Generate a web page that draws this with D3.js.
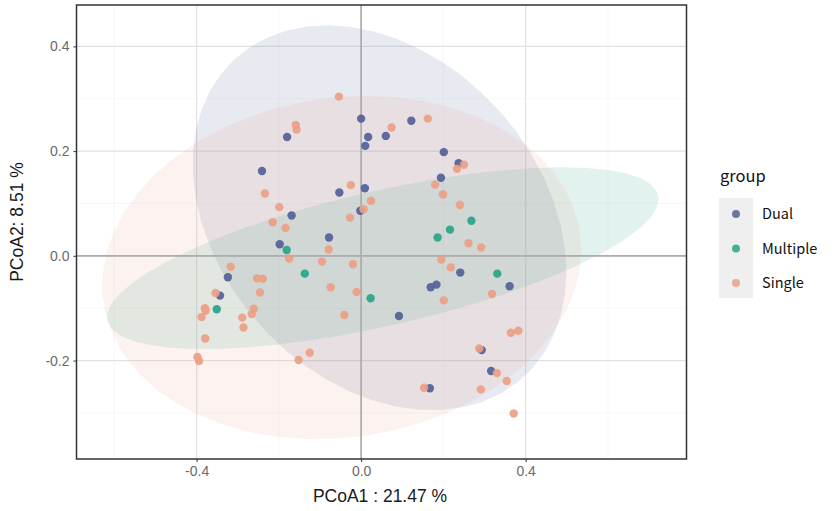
<!DOCTYPE html>
<html>
<head>
	<meta charset="utf-8">
	<title>PCoA</title>
	<script src="https://d3js.org/d3.v7.min.js"></script>
	<style>
		body { margin: 0; background: #fff; }
	</style>
</head>
<body>
	<svg width="833" height="511"></svg>
	<script>
		// values
		var groups = ['Dual', 'Multiple', 'Single'];
		var groupColors = ['#536198', '#27a487', '#eba086'];

		var dualX = [0.000, 0.017, 0.010, -0.180, -0.241, -0.053, 0.009, -0.169, -0.002, -0.078, -0.198, 0.122, 0.060,
			0.201, 0.237, 0.194, -0.324, -0.343, 0.241, 0.169, 0.183, 0.361, 0.092, 0.293, 0.316, 0.167];
		var dualY = [0.262, 0.227, 0.210, 0.227, 0.162, 0.121, 0.129, 0.077, 0.086, 0.035, 0.022, 0.258, 0.229,
			0.198, 0.177, 0.149, -0.041, -0.076, -0.032, -0.060, -0.055, -0.058, -0.115, -0.180, -0.220, -0.253];

		var multipleX = [-0.181, -0.137, 0.023, -0.351, 0.268, 0.216, 0.186, 0.331];
		var multipleY = [0.011, -0.034, -0.081, -0.102, 0.067, 0.050, 0.035, -0.034];

		var singleX = [-0.054, -0.159, -0.157, -0.234, -0.025, 0.024, -0.199, -0.215, -0.184, -0.027, 0.006, 0.162, 0.074,
			0.250, 0.233, 0.180, 0.199, 0.240, -0.175, -0.079, -0.095, -0.020, -0.317, -0.253, -0.239, -0.246, -0.074,
			-0.011, -0.354, -0.380, -0.378, -0.388, -0.261, -0.266, -0.289, -0.286, -0.379, -0.041, -0.398, -0.394,
			-0.152, -0.125, 0.261, 0.292, 0.195, 0.218, 0.318, 0.201, 0.364, 0.382, 0.287, 0.330, 0.354, 0.153, 0.291, 0.371];
		var singleY = [0.304, 0.250, 0.241, 0.119, 0.135, 0.105, 0.093, 0.064, 0.053, 0.073, 0.089, 0.262, 0.245,
			0.174, 0.166, 0.136, 0.117, 0.097, -0.005, 0.012, -0.011, -0.016, -0.021, -0.043, -0.044, -0.070, -0.060,
			-0.069, -0.071, -0.100, -0.105, -0.117, -0.101, -0.111, -0.118, -0.137, -0.158, -0.113, -0.193, -0.201,
			-0.199, -0.185, 0.024, 0.016, -0.007, -0.022, -0.073, -0.085, -0.147, -0.143, -0.177, -0.224, -0.239, -0.252, -0.255, -0.301];

		var xTicks = [-0.4, 0.0, 0.4];
		var yTicks = [-0.2, 0.0, 0.2, 0.4];
		var xMinor = [-0.6, -0.2, 0.2, 0.6];
		var yMinor = [-0.3, -0.1, 0.1, 0.3];
		var xTitle = 'PCoA1 : 21.47 %';
		var yTitle = 'PCoA2: 8.51 %';

		var seriesX = [dualX, multipleX, singleX];
		var seriesY = [dualY, multipleY, singleY];

		const panel = {left: 76.5, right: 686.5, top: 5, bottom: 459};

		var svg = d3.select('svg');

		const xScale = d3.scaleLinear().domain([-0.692, 0.791]).range([panel.left, panel.right]);
		const yScale = d3.scaleLinear().domain([-0.388, 0.479]).range([panel.bottom, panel.top]);

		// robust t covariance, the way stat_ellipse does it (MASS::cov.trob, nu = 5)
		function covTrob(xs, ys) {
			var n = xs.length, nu = 5, p = 2;
			var w = xs.map(() => 1);
			var lx = d3.mean(xs), ly = d3.mean(ys);
			var dx, dy;
			for (var it = 0; it < 25; it++) {
				var w0 = w.slice();
				dx = xs.map(v => v - lx);
				dy = ys.map(v => v - ly);
				var sw = d3.sum(w);
				var a = 0, b = 0, c = 0;
				for (var i = 0; i < n; i++) {
					a += w[i] / sw * dx[i] * dx[i];
					b += w[i] / sw * dx[i] * dy[i];
					c += w[i] / sw * dy[i] * dy[i];
				}
				var det = a * c - b * b;
				w = dx.map((u, i) => {
					var q = (c * u * u - 2 * b * u * dy[i] + a * dy[i] * dy[i]) / det;
					return (nu + p) / (nu + q);
				});
				var tw = d3.sum(w);
				lx = d3.sum(xs.map((v, i) => w[i] * v)) / tw;
				ly = d3.sum(ys.map((v, i) => w[i] * v)) / tw;
				if (w.every((v, i) => Math.abs(v - w0[i]) < 0.01)) break;
			}
			var sxx = 0, sxy = 0, syy = 0;
			for (var j = 0; j < n; j++) {
				sxx += w[j] * dx[j] * dx[j];
				sxy += w[j] * dx[j] * dy[j];
				syy += w[j] * dy[j] * dy[j];
			}
			return {cx: lx, cy: ly, sxx: sxx / n, sxy: sxy / n, syy: syy / n};
		}

		function ellipsePoints(xs, ys) {
			var v = covTrob(xs, ys);
			var d2 = xs.length - 1;
			var q = (d2 / 2) * (Math.pow(0.05, -2 / d2) - 1);   // qf(0.95, 2, n-1)
			var r = Math.sqrt(2 * q);
			// chol of [[sxx, sxy],[sxy, syy]] (upper)
			var u11 = Math.sqrt(v.sxx), u12 = v.sxy / u11, u22 = Math.sqrt(v.syy - u12 * u12);
			return d3.range(52).map(k => {
				var t = k * 2 * Math.PI / 51;
				var ct = Math.cos(t), st = Math.sin(t);
				return [v.cx + r * ct * u11, v.cy + r * (ct * u12 + st * u22)];
			});
		}

		// gridlines
		const grid = svg.append('g');
		grid.selectAll('.minx').data(xMinor).enter().append('line')
			.attr('x1', d => xScale(d)).attr('x2', d => xScale(d))
			.attr('y1', panel.top).attr('y2', panel.bottom)
			.attr('stroke', '#f3f3f3').attr('stroke-width', 0.6);
		grid.selectAll('.miny').data(yMinor).enter().append('line')
			.attr('y1', d => yScale(d)).attr('y2', d => yScale(d))
			.attr('x1', panel.left).attr('x2', panel.right)
			.attr('stroke', '#f3f3f3').attr('stroke-width', 0.6);
		grid.selectAll('.majx').data(xTicks).enter().append('line')
			.attr('x1', d => xScale(d)).attr('x2', d => xScale(d))
			.attr('y1', panel.top).attr('y2', panel.bottom)
			.attr('stroke', '#e2e2e2').attr('stroke-width', 1.2);
		grid.selectAll('.majy').data(yTicks).enter().append('line')
			.attr('y1', d => yScale(d)).attr('y2', d => yScale(d))
			.attr('x1', panel.left).attr('x2', panel.right)
			.attr('stroke', '#e2e2e2').attr('stroke-width', 1.2);

		// ellipses
		svg.append('clipPath').attr('id', 'panelclip').append('rect')
			.attr('x', panel.left).attr('y', panel.top)
			.attr('width', panel.right - panel.left).attr('height', panel.bottom - panel.top);
		const line = d3.line().x(d => xScale(d[0])).y(d => yScale(d[1]));
		svg.append('g').attr('clip-path', 'url(#panelclip)')
			.selectAll('path').data(groups).enter().append('path')
			.attr('d', (g, i) => line(ellipsePoints(seriesX[i], seriesY[i])) + 'Z')
			.attr('fill', (g, i) => groupColors[i])
			.attr('fill-opacity', 0.135)
			.attr('stroke', 'none');

		// zero lines
		svg.append('line')
			.attr('x1', xScale(0)).attr('x2', xScale(0))
			.attr('y1', panel.top).attr('y2', panel.bottom)
			.attr('stroke', '#adadad').attr('stroke-width', 1.7);
		svg.append('line')
			.attr('y1', yScale(0)).attr('y2', yScale(0))
			.attr('x1', panel.left).attr('x2', panel.right)
			.attr('stroke', '#adadad').attr('stroke-width', 1.7);

		// points
		groups.forEach(function(g, i) {
			svg.append('g').selectAll('circle')
				.data(seriesX[i].map((v, k) => [v, seriesY[i][k]]))
				.enter().append('circle')
				.attr('cx', d => xScale(d[0]))
				.attr('cy', d => yScale(d[1]))
				.attr('r', 4.2)
				.attr('fill', groupColors[i])
				.attr('fill-opacity', 0.92);
		});

		// panel border
		svg.append('rect')
			.attr('x', panel.left).attr('y', panel.top)
			.attr('width', panel.right - panel.left).attr('height', panel.bottom - panel.top)
			.attr('fill', 'none').attr('stroke', '#333').attr('stroke-width', 1.5);

		// axes
		const xAxis = svg.append('g')
			.attr('transform', `translate(0, ${panel.bottom})`)
			.call(d3.axisBottom(xScale).tickValues(xTicks).tickSizeInner(3).tickSizeOuter(0).tickPadding(4));
		const yAxis = svg.append('g')
			.attr('transform', `translate(${panel.left}, 0)`)
			.call(d3.axisLeft(yScale).tickValues(yTicks).tickSizeInner(3).tickSizeOuter(0).tickPadding(4));
		[xAxis, yAxis].forEach(function(ax) {
			ax.select('.domain').remove();
			ax.selectAll('line').attr('stroke', '#333');
			ax.selectAll('text')
				.text(d => d.toFixed(1))
				.attr('fill', '#6a6a6a')
				.style('font-family', 'Liberation Sans, Arial, sans-serif')
				.style('font-size', '14px');
		});

		// axis titles
		svg.append('text')
			.attr('x', 380).attr('y', 502)
			.attr('text-anchor', 'middle')
			.style('font-family', 'Liberation Sans, Arial, sans-serif')
			.style('font-size', '17.5px')
			.attr('fill', '#1a1a1a')
			.text(xTitle);
		svg.append('text')
			.attr('transform', 'translate(23, 222) rotate(-90)')
			.attr('text-anchor', 'middle')
			.style('font-family', 'Liberation Sans, Arial, sans-serif')
			.style('font-size', '17.5px')
			.attr('fill', '#1a1a1a')
			.text(yTitle);

		// legend
		const legend = svg.append('g');
		legend.append('text')
			.attr('x', 720).attr('y', 182)
			.style('font-family', 'Noto Sans CJK SC, Noto Sans, sans-serif')
			.style('font-size', '16.5px')
			.attr('fill', '#111')
			.text('group');
		legend.append('rect')
			.attr('x', 719).attr('y', 198).attr('width', 34).attr('height', 100)
			.attr('fill', '#efefef');
		const keys = legend.selectAll('.key').data(groups).enter().append('g')
			.attr('transform', (d, i) => `translate(736, ${214 + i * 34.5})`);
		keys.append('circle').attr('r', 4).attr('fill', (d, i) => groupColors[i]).attr('fill-opacity', 0.85);
		keys.append('text')
			.attr('x', 26).attr('y', 5)
			.style('font-family', 'Noto Sans CJK SC, Noto Sans, sans-serif')
			.style('font-size', '14.5px')
			.attr('fill', '#111')
			.text(d => d);
	</script>
</body>
</html>
